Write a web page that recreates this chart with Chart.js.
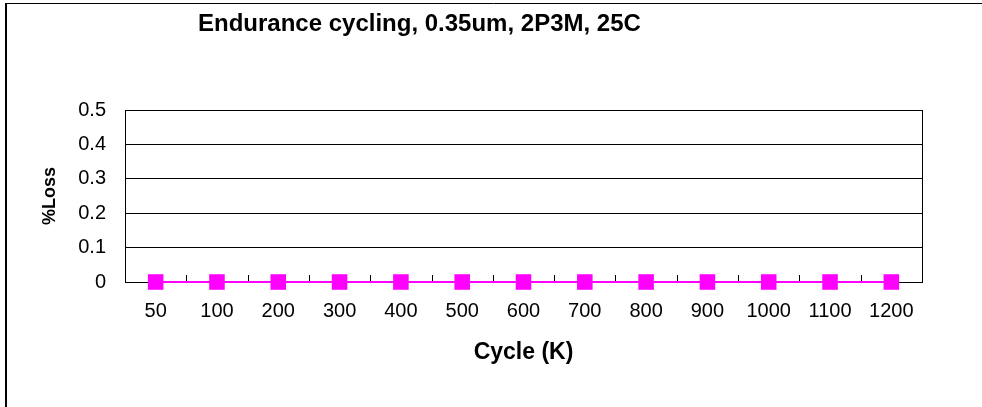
<!DOCTYPE html>
<html>
<head>
<meta charset="utf-8">
<script src="https://cdn.jsdelivr.net/npm/chart.js@4/dist/chart.umd.min.js"></script>
<style>
	html, body { margin: 0; padding: 0; background: #fff; }
	#wrap { width: 982px; height: 407px; position: relative; }
</style>
</head>
<body>
<div id="wrap"><canvas id="chartEndurance"></canvas></div>
<script>
var cycles = ['50', '100', '200', '300', '400', '500', '600', '700', '800', '900', '1000', '1100', '1200'];
var lossValues = [0, 0, 0, 0, 0, 0, 0, 0, 0, 0, 0, 0, 0];
var yTicks = [0, 0.1, 0.2, 0.3, 0.4, 0.5];
var chartTitle = 'Endurance cycling, 0.35um, 2P3M, 25C';

(function () {
	var el = document.getElementById('chartEndurance');
	var fontName = '"Liberation Sans", Arial, sans-serif';

	// frame, plot box, inner x ticks and title
	var decor = {
		id: 'decor',
		beforeDraw: function (chart) {
			var ctx = chart.ctx;
			ctx.save();
			ctx.fillStyle = '#fff';
			ctx.fillRect(0, 0, chart.width, chart.height);
			ctx.strokeStyle = '#000';
			ctx.lineWidth = 1;
			ctx.beginPath();
			ctx.moveTo(5, 3.5);
			ctx.lineTo(chart.width, 3.5);
			ctx.stroke();
			ctx.lineWidth = 2;
			ctx.beginPath();
			ctx.moveTo(6, 3);
			ctx.lineTo(6, chart.height);
			ctx.stroke();
			ctx.restore();
		},
		beforeDatasetsDraw: function (chart) {
			var ctx = chart.ctx;
			var a = chart.chartArea;
			var xs = chart.scales.x;
			ctx.save();
			ctx.strokeStyle = '#000';
			ctx.lineWidth = 1;
			ctx.beginPath();
			ctx.moveTo(Math.round(a.right) + 0.5, a.top);
			ctx.lineTo(Math.round(a.right) + 0.5, a.bottom);
			for (var i = 1; i < cycles.length; i++) {
				var px = Math.round((xs.getPixelForTick(i - 1) + xs.getPixelForTick(i)) / 2) + 0.5;
				ctx.moveTo(px, a.bottom);
				ctx.lineTo(px, a.bottom - 7);
			}
			ctx.stroke();
			ctx.restore();
		},
		afterDatasetsDraw: function (chart) {
			var ctx = chart.ctx;
			ctx.save();
			ctx.fillStyle = '#000';
			ctx.font = 'bold 24px ' + fontName;
			ctx.textAlign = 'left';
			ctx.textBaseline = 'alphabetic';
			ctx.fillText(chartTitle, 198, 31);
			ctx.restore();
		}
	};

	new Chart(el, {
		type: 'line',
		data: {
			labels: cycles,
			datasets: [{
				data: lossValues,
				borderColor: '#ff00ff',
				backgroundColor: '#ff00ff',
				borderWidth: 2,
				pointStyle: 'rect',
				pointRadius: 11,
				pointHoverRadius: 11,
				pointBorderWidth: 0,
				pointBackgroundColor: '#ff00ff',
				tension: 0,
				clip: false
			}]
		},
		options: {
			responsive: true,
			maintainAspectRatio: false,
			animation: false,
			events: [],
			layout: { padding: { left: 0, right: 60, top: 110, bottom: 0 } },
			plugins: {
				legend: { display: false },
				tooltip: { enabled: false }
			},
			scales: {
				x: {
					offset: true,
					grid: { display: false },
					border: { color: '#000', width: 1 },
					ticks: {
						color: '#000',
						padding: 9,
						maxRotation: 0,
						autoSkip: false,
						font: { family: fontName, size: 20 }
					},
					title: {
						display: true,
						text: 'Cycle (K)',
						color: '#000',
						padding: { top: 41, bottom: 41 },
						font: { family: fontName, size: 23, weight: 'bold' }
					},
					afterFit: function (scale) { scale.height = 125; }
				},
				y: {
					min: yTicks[0],
					max: yTicks[yTicks.length - 1],
					afterBuildTicks: function (scale) {
						scale.ticks = yTicks.map(function (v) { return { value: v }; });
					},
					grid: { color: '#000', drawTicks: false },
					border: { color: '#000', width: 1 },
					ticks: {
						color: '#000',
						padding: 19,
						font: { family: fontName, size: 20 },
						callback: function (value) {
							return String(Number(value.toFixed(1)));
						}
					},
					title: {
						display: true,
						text: '%Loss',
						color: '#000',
						padding: { top: 39, bottom: 0 },
						font: { family: fontName, size: 18, weight: 'bold' }
					},
					afterFit: function (scale) { scale.width = 125; }
				}
			}
		},
		plugins: [decor]
	});
})();
</script>
</body>
</html>
